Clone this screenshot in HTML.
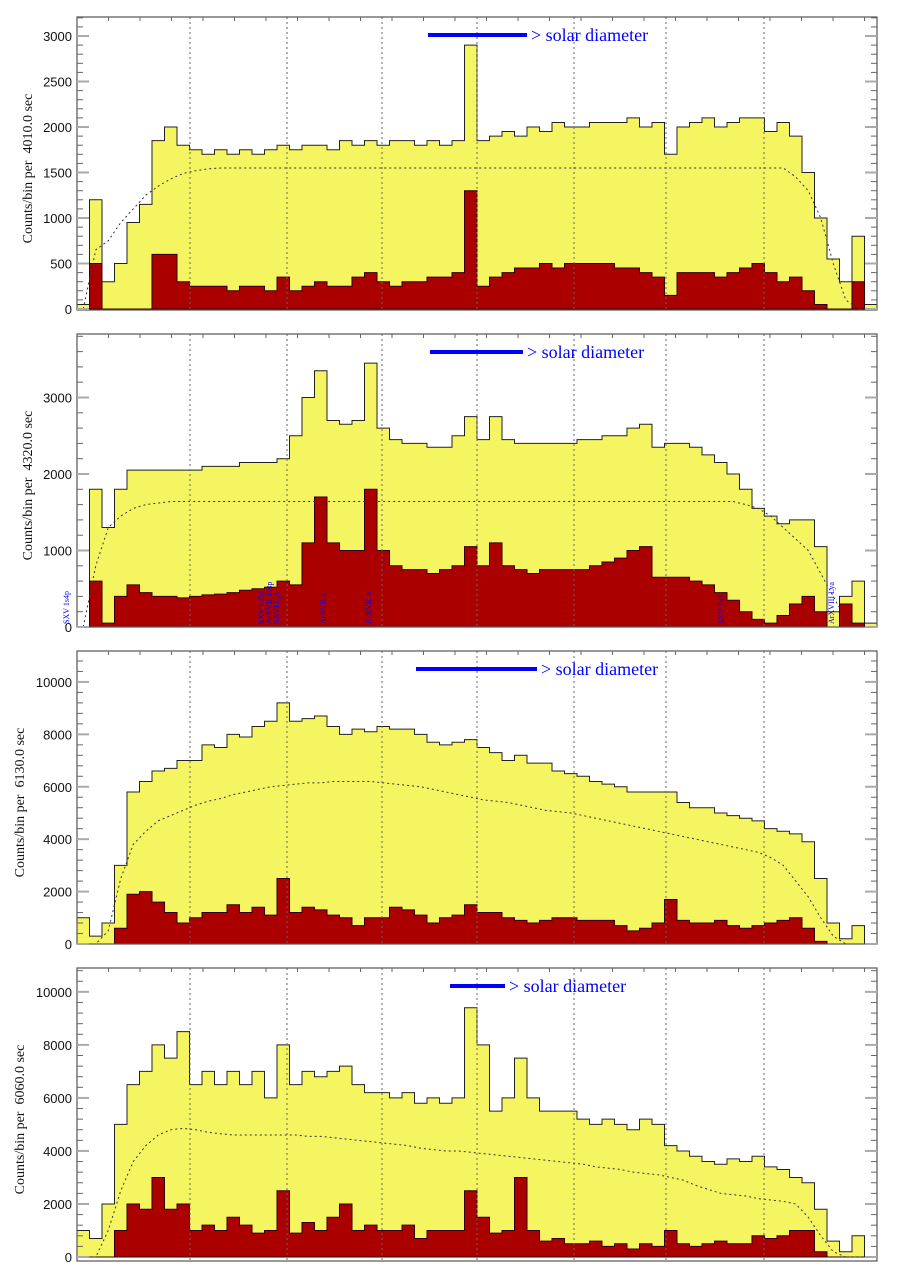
<!DOCTYPE html>
<html><head><meta charset="utf-8"><style>
html,body{margin:0;padding:0;background:#fff;}
svg{display:block;}
</style></head><body>
<svg id="chart" width="922" height="1287" viewBox="0 0 922 1287" xmlns="http://www.w3.org/2000/svg"></svg>
<script>
const NS="http://www.w3.org/2000/svg";
const exposures=["4010.0","4320.0","6130.0","6060.0"];
const yMaxes=[3209,3830,11180,10900];
const majorSteps=[500,1000,2000,2000];
const minorSteps=[100,200,400,400];
const totals1=[50,1200,300,500,950,1150,1850,2000,1800,1750,1700,1750,1700,1750,1700,1750,1800,1750,1800,1800,1750,1850,1800,1850,1800,1850,1850,1800,1850,1800,1850,2900,1850,1900,1950,1900,2000,1950,2050,2000,2000,2050,2050,2050,2100,2000,2050,1700,2000,2050,2100,2000,2050,2100,2100,1950,2050,1900,1500,1000,550,300,800,50];
const hard1=[0,500,0,0,0,0,600,600,300,250,250,250,200,250,250,200,350,200,250,300,250,250,350,400,300,250,300,300,350,350,400,1300,250,350,400,450,450,500,450,500,500,500,500,450,450,400,350,150,400,400,400,350,400,450,500,400,300,350,200,50,0,0,300,0];
const model1=[0,650,750,950,1100,1250,1350,1430,1490,1520,1540,1550,1550,1550,1550,1550,1550,1550,1550,1550,1550,1550,1550,1550,1550,1550,1550,1550,1550,1550,1550,1550,1550,1550,1550,1550,1550,1550,1550,1550,1550,1550,1550,1550,1550,1550,1550,1550,1550,1550,1550,1550,1550,1550,1550,1550,1550,1450,1300,1000,500,100,0,0];
const totals2=[0,1800,1300,1800,2050,2050,2050,2050,2050,2050,2100,2100,2100,2150,2150,2150,2200,2500,3000,3350,2700,2650,2700,3450,2600,2450,2400,2400,2350,2350,2500,2750,2450,2750,2450,2400,2400,2400,2400,2400,2450,2450,2500,2500,2600,2650,2350,2400,2400,2350,2250,2150,2000,1800,1550,1450,1350,1400,1400,1050,200,400,600,50];
const hard2=[0,600,50,400,550,450,400,400,380,400,420,430,450,480,500,520,600,550,1100,1700,1100,1000,1000,1800,1000,800,750,750,700,750,800,1050,800,1100,800,750,700,750,750,750,750,800,850,900,1000,1050,650,650,650,600,550,450,350,200,100,50,150,300,400,200,0,300,50,0];
const model2=[0,800,1300,1450,1550,1600,1620,1640,1640,1640,1640,1640,1640,1640,1640,1640,1640,1640,1640,1640,1640,1640,1640,1640,1640,1640,1640,1640,1640,1640,1640,1640,1640,1640,1640,1640,1640,1640,1640,1640,1640,1640,1640,1640,1640,1640,1640,1640,1640,1640,1640,1640,1640,1600,1550,1450,1300,1150,1000,700,400,100,0,0];
const totals3=[1000,300,800,3000,5800,6200,6600,6700,7000,7000,7600,7500,8000,7900,8300,8500,9200,8500,8600,8700,8300,8000,8200,8100,8300,8200,8200,8000,7700,7600,7700,7800,7500,7300,7000,7200,6900,6900,6600,6500,6400,6200,6100,6000,5800,5800,5800,5800,5400,5200,5200,5000,4900,4800,4700,4400,4300,4200,3900,2500,800,200,700,0];
const hard3=[0,0,0,600,1900,2000,1600,1200,800,1000,1200,1200,1500,1200,1400,1100,2500,1200,1400,1300,1100,1000,700,1000,1000,1400,1300,1100,800,1000,1100,1500,1200,1200,1000,900,800,900,1000,1000,900,900,900,700,500,600,800,1700,900,800,800,900,700,600,700,800,900,1000,600,100,0,0,0,0];
const model3=[0,0,500,2500,3800,4300,4700,4900,5100,5300,5450,5550,5700,5800,5900,6000,6050,6100,6150,6150,6200,6200,6200,6200,6150,6100,6050,6000,5900,5800,5700,5600,5500,5450,5400,5300,5200,5100,5050,5000,4900,4800,4700,4600,4500,4400,4300,4200,4100,4000,3900,3800,3700,3600,3500,3300,3000,2400,1800,1000,300,0,0,0];
const totals4=[1000,700,2000,5000,6500,7000,8000,7500,8500,6500,7000,6500,7000,6500,7000,6000,8000,6500,7000,6800,7000,7200,6500,6200,6200,6000,6200,5800,6000,5800,6000,9400,8000,5500,6000,7500,6000,5500,5500,5500,5200,5000,5200,5000,4800,5200,5000,4200,4000,3800,3600,3500,3700,3600,3800,3400,3300,3000,2800,1800,600,200,800,0];
const hard4=[0,0,0,1000,2000,1800,3000,1800,2000,1000,1200,1000,1500,1200,900,1000,2500,900,1300,1000,1500,2000,1000,1200,1000,1000,1200,700,1000,1000,1000,2500,1500,900,1000,3000,1000,600,700,500,500,600,400,500,300,500,400,1000,500,400,500,600,500,500,800,700,800,1000,1000,200,0,0,0,0];
const model4=[0,0,1000,2500,3600,4200,4600,4800,4850,4800,4700,4650,4600,4600,4600,4600,4600,4600,4550,4550,4500,4450,4400,4350,4300,4250,4200,4100,4050,4000,4000,3950,3900,3850,3800,3750,3700,3650,3600,3550,3500,3400,3350,3300,3200,3150,3100,3000,2900,2700,2550,2400,2350,2300,2200,2150,2100,2000,1500,800,200,0,0,0];
const totalsAll=[totals1,totals2,totals3,totals4];
const hardAll=[hard1,hard2,hard3,hard4];
const modelAll=[model1,model2,model3,model4];
const gridX=[190,287,382,477,574,666,764];
const barStart=[428,430,416,450];
const barEnd=[527,523,537,505];
const lineLabels=["SXV 1s4p","SXV 1s5p","ArXVII 1s3p","SXVI Lyb","ArXVII x","ArXVII w","SXV 1s3","ArXVIII Lya"];
const lineLabelPos=[69,264,272,279,326,371,724,834];

const svg=document.getElementById('chart');
function mk(tag,attrs,parent){const e=document.createElementNS(NS,tag);for(const k in attrs)e.setAttribute(k,attrs[k]);(parent||svg).appendChild(e);return e;}
const X0=77,X1=877,H=293;
const tops=[17,334,651,968];
const nb=64;
function xs(i){return X0+(X1-X0)*i/nb;}

for(let p=0;p<4;p++){
  const top=tops[p],bot=top+H;
  const zeroY=[309,627,944,1257][p];
  const ys=v=>zeroY-(zeroY-top)*v/yMaxes[p];
  const g=mk('g',{});
  
  
  function stairs(arr){let d='M'+xs(0)+','+zeroY;for(let i=0;i<nb;i++){const y=Math.min(bot,Math.max(top,ys(arr[i])));d+=' L'+xs(i)+','+y+' L'+xs(i+1)+','+y;}d+=' L'+xs(nb)+','+zeroY+' Z';return d;}
  const tot=mk('path',{d:stairs(totalsAll[p]),fill:'#f5f562',stroke:'#222','stroke-width':1},g);
  
  
  const hard=mk('path',{d:stairs(hardAll[p]),fill:'#aa0000',stroke:'#330000','stroke-width':1},g);
  
  
  let pts=[];for(let i=0;i<nb;i++)pts.push((xs(i)+xs(i+1))/2+','+ys(modelAll[p][i]));
  const mdl=mk('polyline',{points:pts.join(' '),fill:'none',stroke:'#333','stroke-width':1,'stroke-dasharray':'2,3'},g);
  
  
  for(const gx of gridX){const l=mk('line',{x1:gx,x2:gx,y1:top,y2:bot,stroke:'#666','stroke-width':1,'stroke-dasharray':'2,3'},g);
    
    }
  const fr=mk('rect',{x:X0,y:top,width:X1-X0,height:H,fill:'none',stroke:'#555','stroke-width':1.2},g);
  
  
  for(let tx=X0+31.5;tx<X1;tx+=31.5){const t=mk('line',{x1:tx,x2:tx,y1:top,y2:top+4,stroke:'#666'},g);
    
    }
  for(let v=0;v<=yMaxes[p];v+=minorSteps[p]){
    const y=ys(v);const maj=v%majorSteps[p]===0;
    const len=maj?12:6;
    const t1=mk('line',{x1:X0,x2:X0+len,y1:y,y2:y,stroke:maj?'#aaa':'#666','stroke-width':maj?2:1},g);
    
    
    const t2=mk('line',{x1:X1-len,x2:X1,y1:y,y2:y,stroke:maj?'#aaa':'#666','stroke-width':maj?2:1},g);
    
    
    if(maj){const tl=mk('text',{x:X0-5,y:y+5,'text-anchor':'end','font-family':'Liberation Sans, sans-serif','font-size':13,fill:'#111'},g);
      tl.textContent=v;
      
      }
  }
  const cx=[32,32,24,24][p],cy=top+H/2+5;
  const yt=mk('text',{x:cx,y:cy,transform:'rotate(-90 '+cx+' '+cy+')','text-anchor':'middle','font-family':'Liberation Serif, serif','font-size':14,fill:'#111',style:'white-space:pre'},g);
  yt.textContent='Counts/bin per  '+exposures[p]+' sec';
  
  
  const by=top+18;
  const bar=mk('line',{x1:barStart[p],x2:barEnd[p],y1:by,y2:by,stroke:'#0000ff','stroke-width':4},g);
  
  
  const bt=mk('text',{x:barEnd[p]+4,y:by+6,'font-family':'Liberation Serif, serif','font-size':18,fill:'#0000ff'},g);
  bt.textContent='> solar diameter';
  
  
  if(p===1){
    for(let k=0;k<lineLabels.length;k++){
      const lx=lineLabelPos[k],ly=bot-3;
      const t=mk('text',{x:lx,y:ly,transform:'rotate(-90 '+lx+' '+ly+')','font-family':'Liberation Serif, serif','font-size':8,fill:'#0000ff'},g);
      t.textContent=lineLabels[k];
      
      
    }
  }
}
</script>
</body></html>
